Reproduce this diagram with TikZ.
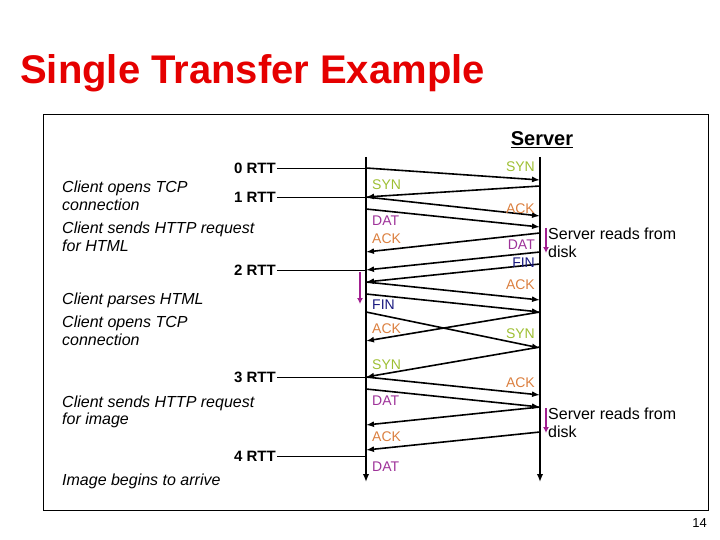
\documentclass[tikz,border=0pt]{standalone}
\usepackage{fontspec}
\setmainfont{Liberation Sans}
\usetikzlibrary{arrows.meta,positioning}
\definecolor{titlered}{rgb}{0.9,0,0}
\definecolor{synyellow}{rgb}{0.62,0.75,0.2}
\definecolor{ackorange}{rgb}{0.86,0.5,0.25}
\definecolor{datpurple}{rgb}{0.62,0.2,0.6}
\definecolor{finblue}{rgb}{0.1,0.1,0.5}
\definecolor{readpurple}{rgb}{0.63,0.12,0.56}

\tikzset{
    lifeline/.style={line width=2.2pt,-{Latex[length=8pt,width=6.5pt]}},
    tosrv/.style={line width=1.6pt,-{Latex[length=8pt,width=6pt]}},
    tocli/.style={line width=1.6pt,{Latex[length=8pt,width=6pt]}-},
    readarrow/.style={line width=1.8pt,readpurple,-{Latex[length=6pt,width=6pt]}},
    rttline/.style={line width=0.9pt},
    rtt/.style={font=\fontsize{15}{17}\selectfont\bfseries,anchor=east,inner sep=1pt},
    event/.style={font=\fontsize{16}{17.5}\selectfont\itshape,anchor=west,align=left,inner sep=0pt},
    msglab/.style={font=\fontsize{14}{16}\selectfont,inner sep=0pt}
}

\begin{document}
\begin{tikzpicture}[x=1pt,y=-1pt]
        \useasboundingbox (0,0) rectangle (720,540);
        % Add title
        \node[anchor=base west,inner sep=0pt,text=titlered,font=\fontsize{40}{44}\selectfont\bfseries] (title) at (20,84) {Single Transfer Example};
        \draw[line width=1pt] (43,115) rectangle (708,510);
        \node[font=\fontsize{20}{22}\selectfont\bfseries] (server) at (542,140) {\underline{Server}};

        % time lines
        \coordinate (ctop) at (366,157);
        \coordinate (cbot) at (366,482);
        \coordinate (stop) at (540,157);
        \coordinate (sbot) at (540,482);
        \draw[lifeline] (ctop) -- (cbot);
        \draw[lifeline] (stop) -- (sbot);

        % messages: client y / server y / direction
        \foreach \n/\cy/\sy/\d in {1/168/180/tosrv, 2/197/186/tocli, 3/197/216/tosrv,
                4/209/227/tosrv, 5/252/233/tocli, 6/270/252/tocli, 7/282/264/tocli,
                8/282/300/tosrv, 9/294/312/tosrv, 10/341/312/tocli, 11/312/348/tosrv,
                12/377/347/tocli, 13/377/395/tosrv, 14/389/407/tosrv, 15/425/407/tocli,
                16/450/432/tocli}{
            \coordinate (c\n) at (366,\cy);
            \coordinate (s\n) at (540,\sy);
            \draw[\d] (c\n) -- (s\n);
        }

        % labels at the server
        \foreach \t/\y/\c [count=\i] in {SYN/167/synyellow, ACK/209/ackorange, DAT/245/datpurple,
                FIN/263/finblue, ACK/285/ackorange, SYN/334/synyellow, ACK/383/ackorange}
            \node[msglab,anchor=east,text=\c] (ls\i) at (535,\y) {\t};
        % labels at the client
        \foreach \t/\y/\c [count=\i] in {SYN/185/synyellow, DAT/221/datpurple, ACK/239/ackorange,
                FIN/305/finblue, ACK/329/ackorange, SYN/365/synyellow, DAT/401/datpurple,
                ACK/437/ackorange, DAT/467/datpurple}
            \node[msglab,anchor=west,text=\c] (lc\i) at (372,\y) {\t};

        % round trips
        \coordinate (c4rtt) at (366,456);
        \node[rtt] (rtt0) at (277,168) {0 RTT};
        \node[rtt] (rtt1) at (277,197) {1 RTT};
        \node[rtt] (rtt2) at (277,270) {2 RTT};
        \node[rtt] (rtt3) at (277,377) {3 RTT};
        \node[rtt] (rtt4) at (277,456) {4 RTT};
        \draw[rttline] (rtt0.east) -- (c1);
        \draw[rttline] (rtt1.east) -- (c2);
        \draw[rttline] (rtt2.east) -- (c6);
        \draw[rttline] (rtt3.east) -- (c12);
        \draw[rttline] (rtt4.east) -- (c4rtt);

        % what the client does
        \node[event] (open1) at (62,196) {Client opens TCP\\connection};
        \node[event] (req1) at (62,237) {Client sends HTTP request\\for HTML};
        \node[event] (parse) at (62,300) {Client parses HTML};
        \node[event] (open2) at (62,331) {Client opens TCP\\connection};
        \node[event] (req2) at (62,412) {Client sends HTTP request\\for image};
        \node[event] (arrive) at (62,481) {Image begins to arrive};

        % parsing and disk reads
        \coordinate (ptop) at (360,272);
        \coordinate (pbot) at (360,304);
        \draw[readarrow] (ptop) -- (pbot);
        \coordinate (rtop1) at (546,228);
        \coordinate (rbot1) at (546,253);
        \draw[readarrow] (rtop1) -- (rbot1);
        \node[event,font=\fontsize{16}{17.5}\selectfont] (read1) at (548,243) {Server reads from\\disk};
        \coordinate (rtop2) at (546,408);
        \coordinate (rbot2) at (546,433);
        \draw[readarrow] (rtop2) -- (rbot2);
        \node[event,font=\fontsize{16}{17.5}\selectfont] (read2) at (548,423) {Server reads from\\disk};

        \node[anchor=east,inner sep=0pt,font=\fontsize{13}{15}\selectfont] (page) at (707,523) {14};
    \end{tikzpicture}
\end{document}
